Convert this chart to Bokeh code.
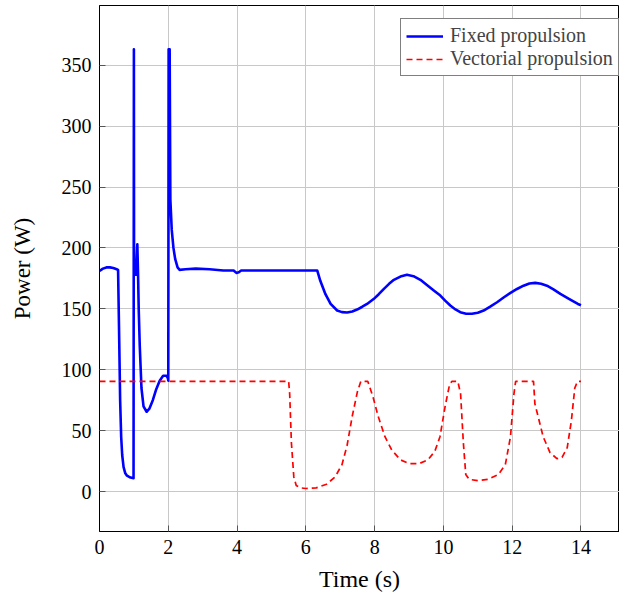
from bokeh.plotting import figure
from bokeh.models import Range1d, FixedTicker, Legend, LegendItem
from bokeh.embed import file_html
from bokeh.resources import INLINE

# ---- data ----
t_fixed = [0.0, 0.1, 0.2, 0.3, 0.4, 0.5, 0.54, 0.57, 0.6, 0.63, 0.66, 0.7, 0.75, 0.8, 0.9, 0.99,
           1.0, 1.005, 1.03, 1.06, 1.08, 1.1, 1.12, 1.14, 1.17, 1.22, 1.28, 1.37, 1.45, 1.55,
           1.65, 1.75, 1.85, 1.95, 1.99, 2.0, 2.01, 2.04, 2.06, 2.1, 2.15, 2.2, 2.27, 2.33,
           2.5, 2.8, 3.2, 3.6, 3.9, 3.98, 4.05, 4.12, 5.0, 6.0, 6.33,
           6.42, 6.57, 6.72, 6.91, 7.05, 7.2, 7.35, 7.49, 7.63, 7.78, 7.97, 8.12, 8.27, 8.42,
           8.56, 8.75, 8.94, 9.13, 9.33, 9.52, 9.72, 9.91, 10.05, 10.2, 10.35, 10.49, 10.66,
           10.83, 11.0, 11.17, 11.36, 11.56, 11.75, 11.95, 12.14, 12.33, 12.5, 12.67, 12.84,
           13.01, 13.2, 13.4, 13.65, 13.91, 14.0]
p_fixed = [181, 183, 184, 184, 183.5, 182.5, 182, 130, 75, 45, 30, 20, 15, 13, 11.5, 11,
           363, 185, 180, 178, 190, 203, 180, 150, 120, 85, 70, 65.5, 68, 75,
           84, 91, 95, 95, 93, 91, 363, 363, 240, 215, 200, 191, 184, 182,
           182.5, 183, 182.5, 181.5, 181.5, 179.5, 180, 181.5, 181.5, 181.5, 181.5,
           173, 162, 154, 148.6, 147.3, 147, 147.8, 149.4, 151.5, 154, 158, 162, 166.4, 170.5,
           173.8, 176.5, 177.9, 176.8, 173.8, 169.5, 165, 160.9, 156.7, 152.7, 149.5, 147.2, 146,
           145.9, 146.8, 148.6, 151.8, 155.4, 159.3, 163.1, 166.3, 169, 170.8, 171.3, 170.6,
           169, 166, 162.3, 158.2, 154, 153]

t_vect = [0.0, 5.5, 5.53, 5.58, 5.65, 5.72, 5.85, 6.0, 6.3, 6.6, 6.85, 7.05, 7.2, 7.35, 7.5,
          7.6, 7.8, 7.95, 8.1, 8.3, 8.5, 8.75, 9.0, 9.3, 9.55, 9.75, 9.9, 10.05, 10.18, 10.25,
          10.42, 10.5, 10.58, 10.65, 10.75, 11.0, 11.3, 11.6, 11.8, 11.95, 12.05, 12.1, 12.62,
          12.66, 12.75, 12.9, 13.1, 13.3, 13.45, 13.6, 13.72, 13.82, 13.9, 14.0]
p_vect = [90.5, 90.5, 80, 40, 12, 5, 3, 2.5, 3, 6, 12, 22, 38, 62, 82,
          90.5, 90.5, 78, 62, 45, 34, 26, 23, 23, 26, 33, 45, 70, 88, 90.5,
          90.5, 80, 40, 14, 10, 9, 10, 14, 22, 45, 80, 90.5, 90.5,
          72, 62, 45, 32, 27, 28, 36, 58, 85, 90.5, 90.5]

x_ticks = [0, 2, 4, 6, 8, 10, 12, 14]
y_ticks = [0, 50, 100, 150, 200, 250, 300, 350]

labels = ["Fixed propulsion", "Vectorial propulsion"]
x_label = "Time (s)"
y_label = "Power (W)"

FONT = "Liberation Serif"

p = figure(width=619, height=597, output_backend="svg", toolbar_location=None,
           x_range=Range1d(0, 15.12), y_range=Range1d(-32.8, 399),
           min_border_left=99, min_border_right=0, min_border_top=5, min_border_bottom=66)

p.background_fill_color = "white"
p.outline_line_color = "black"
p.outline_line_width = 1

for ax in (p.xaxis, p.yaxis):
    ax.axis_line_color = "black"
    ax.axis_line_width = 1
    ax.major_tick_in = 6
    ax.major_tick_out = 0
    ax.major_tick_line_color = "#555555"
    ax.minor_tick_line_color = None
    ax.major_label_text_font = FONT
    ax.major_label_text_font_size = "20px"
    ax.major_label_text_color = "black"
    ax.axis_label_text_font = FONT
    ax.axis_label_text_font_style = "normal"
    ax.axis_label_text_color = "black"

p.xaxis.axis_label_text_font_size = "24px"
p.yaxis.axis_label_text_font_size = "23px"
p.xaxis.ticker = FixedTicker(ticks=x_ticks)
p.yaxis.ticker = FixedTicker(ticks=y_ticks)
p.xaxis.axis_label = x_label
p.yaxis.axis_label = y_label
p.xaxis.major_label_standoff = 8
p.yaxis.major_label_standoff = 8
p.xaxis.axis_label_standoff = 9
p.yaxis.axis_label_standoff = 24

p.xgrid.ticker = FixedTicker(ticks=x_ticks)
p.ygrid.ticker = FixedTicker(ticks=y_ticks)
p.grid.grid_line_color = "#c8c8c8"
p.grid.grid_line_width = 1

r1 = p.line(t_fixed, p_fixed, line_color="#0000ff", line_width=2.6, line_join="round")
r2 = p.line(t_vect, p_vect, line_color="#ff0000", line_width=1.7, line_dash="6 4")

legend = Legend(items=[LegendItem(label=labels[0], renderers=[r1]),
                       LegendItem(label=labels[1], renderers=[r2])],
                location=(301, 455))
legend.margin = 0
legend.padding = 5
legend.spacing = 0
legend.glyph_width = 37
legend.label_standoff = 7
legend.label_text_font = FONT
legend.label_text_font_size = "20px"
legend.label_height = 20
legend.border_line_color = "black"
legend.border_line_width = 1
legend.background_fill_color = "white"
legend.background_fill_alpha = 1
p.add_layout(legend, "center")

open("out.html", "w").write(file_html(p, INLINE))
